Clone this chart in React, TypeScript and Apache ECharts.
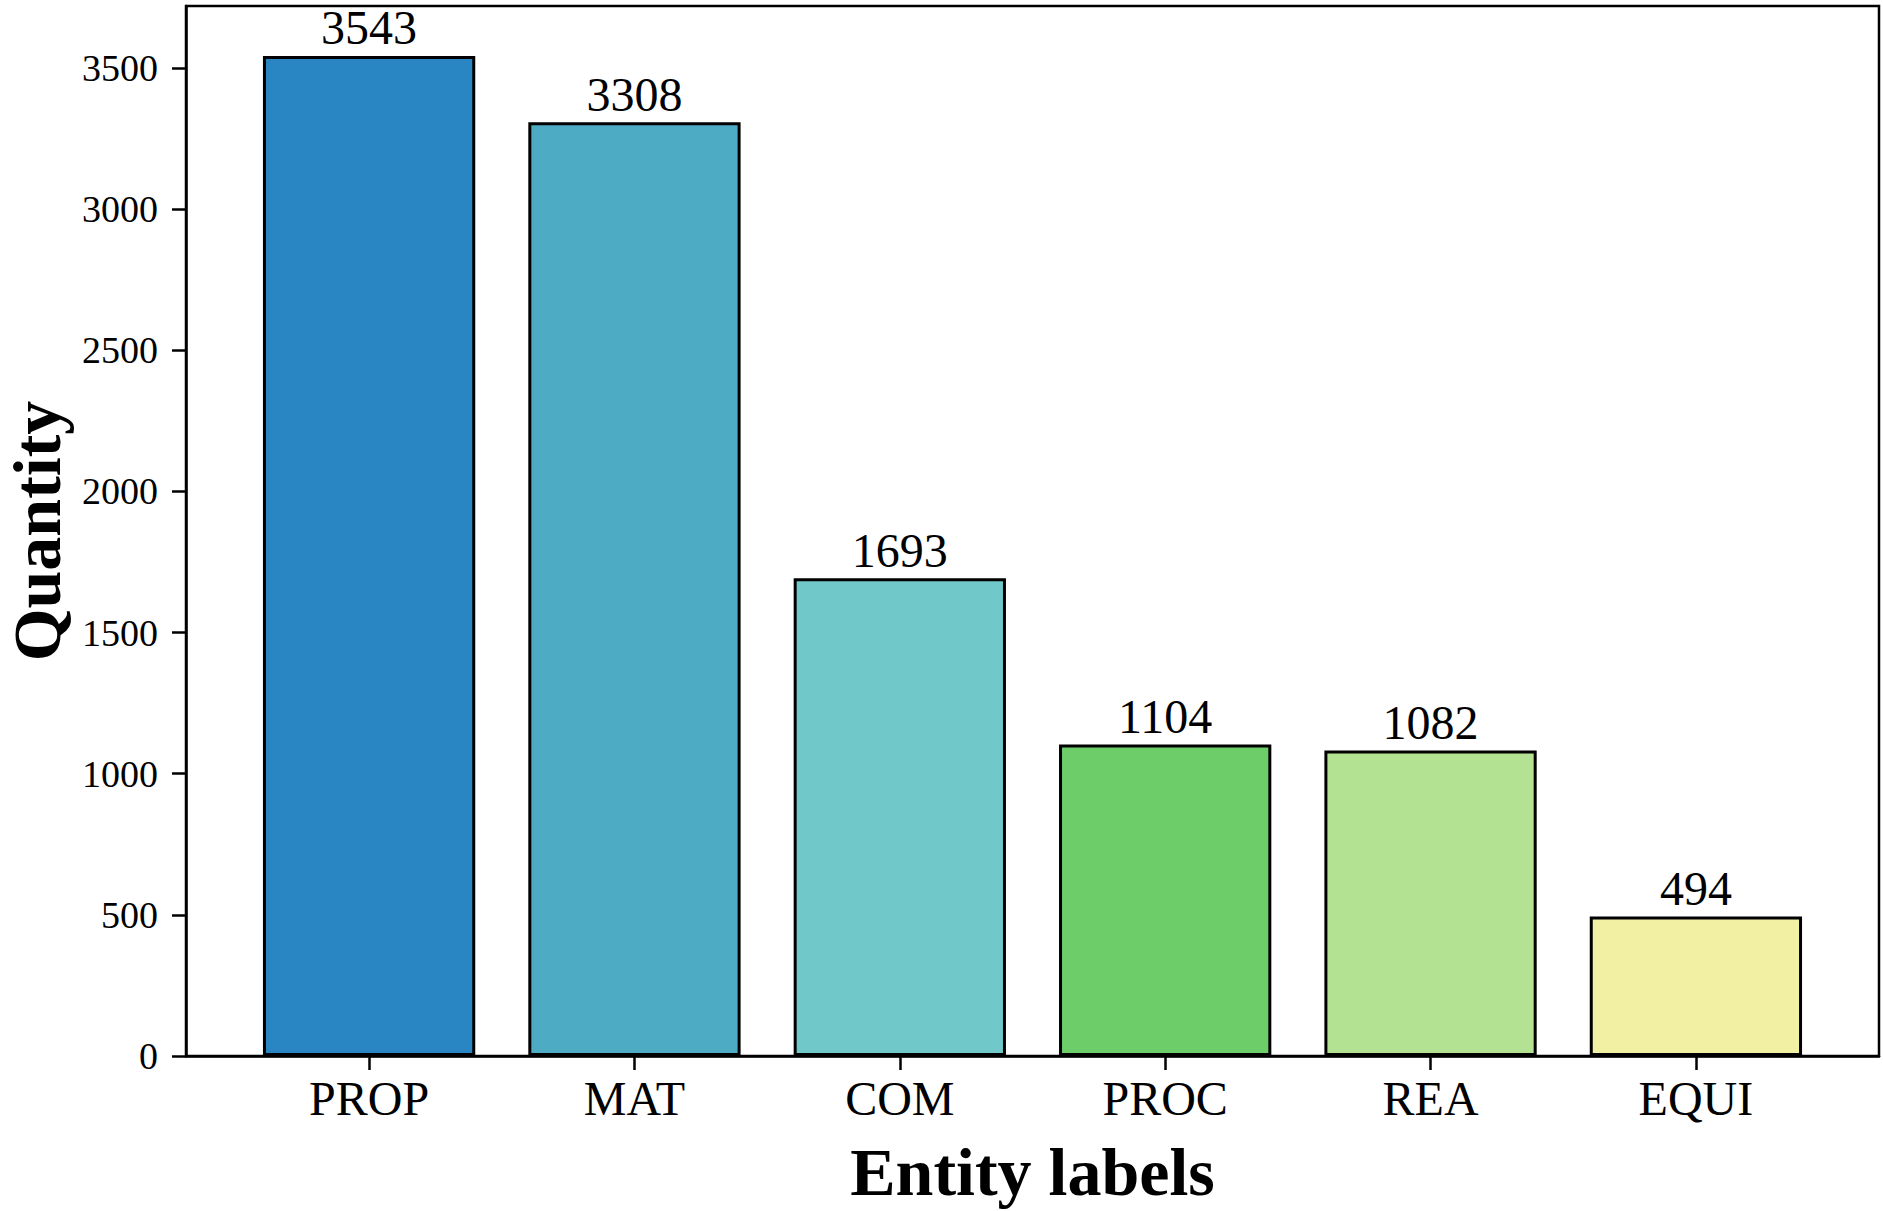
import React, { useEffect, useRef } from "react";
import * as echarts from "echarts";

const categories = ["PROP", "MAT", "COM", "PROC", "REA", "EQUI"];
const quantities = [3543, 3308, 1693, 1104, 1082, 494];
const barColors = ["#2a86c2", "#4eabc4", "#70c8c8", "#6dcd69", "#b2e292", "#f2f0a3"];
const yTicks = [0, 500, 1000, 1500, 2000, 2500, 3000, 3500];

const W = 1883;
const H = 1211;
const GRID = { left: 186, top: 6, right: 1883 - 1879, bottom: 1211 - 1056 };
const X_MIN = -0.69;
const X_MAX = 5.69;

export default function App() {
  const ref = useRef<HTMLDivElement | null>(null);
  useEffect(() => {
    if (!ref.current) return;
    const chart = echarts.init(ref.current, undefined, { renderer: "svg" });
    const plotW = W - GRID.left - GRID.right;
    const barW = (plotW / (X_MAX - X_MIN)) * 0.8;
    const font = "'Liberation Serif', 'Times New Roman', serif";
    chart.setOption({
      animation: false,
      backgroundColor: "#ffffff",
      grid: {
        left: GRID.left,
        top: GRID.top,
        right: GRID.right,
        bottom: GRID.bottom,
        outerBoundsMode: "none",
        containLabel: false,
        show: true,
        borderColor: "#000",
        borderWidth: 2.5,
        backgroundColor: "transparent",
      },
      xAxis: {
        type: "value",
        min: X_MIN,
        max: X_MAX,
        name: "Entity labels",
        nameLocation: "middle",
        nameGap: 82,
        nameTextStyle: { fontFamily: font, fontWeight: "bold", fontSize: 68, color: "#000" },
        splitLine: { show: false },
        axisLine: { show: true, onZero: false, lineStyle: { color: "#000", width: 2.5 } },
        axisTick: {
          show: true,
          customValues: categories.map((_, i) => i),
          length: 14,
          inside: false,
          lineStyle: { color: "#000", width: 2.5 },
        },
        axisLabel: {
          customValues: categories.map((_, i) => i),
          formatter: (v: number) => categories[Math.round(v)] ?? "",
          fontFamily: font,
          fontSize: 48,
          color: "#000",
          margin: 18,
        },
      },
      yAxis: {
        type: "value",
        min: 0,
        max: 3720,
        interval: 500,
        name: "Quantity",
        nameLocation: "middle",
        nameGap: 110,
        nameTextStyle: {
          fontFamily: font,
          fontWeight: "bold",
          fontSize: 68,
          lineHeight: 68,
          color: "#000",
        },
        splitLine: { show: false },
        axisLine: { show: true, onZero: false, lineStyle: { color: "#000", width: 2.5 } },
        axisTick: {
          show: true,
          customValues: yTicks,
          length: 14,
          lineStyle: { color: "#000", width: 2.5 },
        },
        axisLabel: {
          customValues: yTicks,
          formatter: (v: number) => String(v),
          fontFamily: font,
          fontSize: 38,
          color: "#000",
          margin: 28,
        },
      },
      series: [
        {
          type: "bar",
          barWidth: barW,
          data: quantities.map((v, i) => ({
            value: [i, v],
            itemStyle: { color: barColors[i], borderColor: "#000", borderWidth: 3 },
          })),
          label: {
            show: true,
            position: "top",
            distance: 4,
            formatter: (p: any) => String(p.value[1]),
            fontFamily: font,
            fontSize: 48,
            color: "#000",
          },
        },
      ],
    });
    return () => chart.dispose();
  }, []);
  return (
    <div
      ref={ref}
      style={{ position: "fixed", left: 0, top: 0, width: W, height: H, background: "#fff" }}
    />
  );
}
